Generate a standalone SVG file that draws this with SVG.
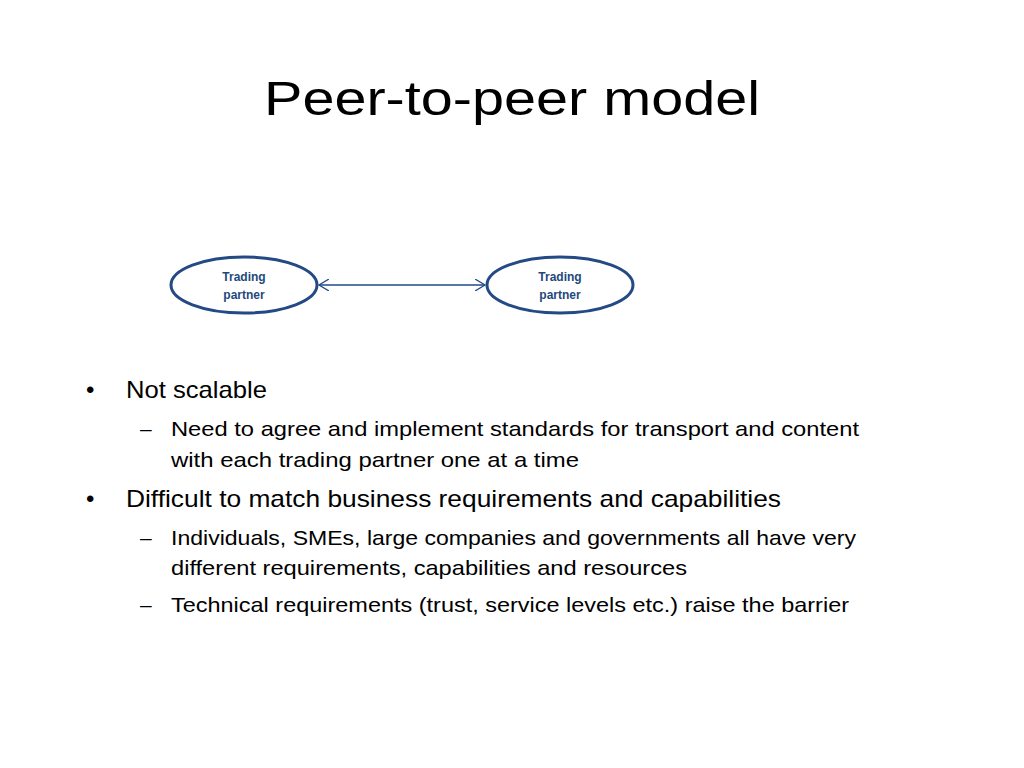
<svg xmlns="http://www.w3.org/2000/svg" width="1024" height="768" viewBox="0 0 1024 768">
<style>
.t{font-family:"Liberation Sans",Arial,sans-serif;fill:#000}
.n{font-family:"Liberation Sans",Arial,sans-serif;font-size:12px;font-weight:bold;fill:#1f497d;text-anchor:middle}
.e{fill:#fff;stroke:#234a85;stroke-width:3}
</style>
<defs><marker id="a" markerWidth="12" markerHeight="12" refX="10" refY="6" orient="auto-start-reverse" markerUnits="userSpaceOnUse"><path d="M0,0 L10,6 L0,12" fill="none" stroke="#234a85" stroke-width="1.3"/></marker></defs>
<rect width="1024" height="768" fill="#fff"/>
<text class="t" x="512" y="115" font-size="48" text-anchor="middle" textLength="496" lengthAdjust="spacingAndGlyphs">Peer-to-peer model</text>
<g id="connectors"><line x1="319" y1="285" x2="485" y2="285" stroke="#234a85" stroke-width="1.3" marker-start="url(#a)" marker-end="url(#a)"/></g>
<g id="p1"><ellipse class="e" cx="244" cy="285" rx="73" ry="28"/><text class="n" x="244" y="281">Trading</text><text class="n" x="244" y="299">partner</text></g>
<g id="p2"><ellipse class="e" cx="560" cy="285" rx="73" ry="28"/><text class="n" x="560" y="281">Trading</text><text class="n" x="560" y="299">partner</text></g>
<g class="t" font-size="24">
<text x="86" y="398">•</text><text x="126" y="398" textLength="141" lengthAdjust="spacingAndGlyphs">Not scalable</text>
<text x="86" y="507">•</text><text x="126" y="507" textLength="655" lengthAdjust="spacingAndGlyphs">Difficult to match business requirements and capabilities</text>
</g>
<g class="t" font-size="21">
<text x="140" y="436">–</text><text x="171" y="436" textLength="688" lengthAdjust="spacingAndGlyphs">Need to agree and implement standards for transport and content</text>
<text x="171" y="467" textLength="408" lengthAdjust="spacingAndGlyphs">with each trading partner one at a time</text>
<text x="140" y="545">–</text><text x="171" y="545" textLength="685" lengthAdjust="spacingAndGlyphs">Individuals, SMEs, large companies and governments all have very</text>
<text x="171" y="575" textLength="516" lengthAdjust="spacingAndGlyphs">different requirements, capabilities and resources</text>
<text x="140" y="612">–</text><text x="171" y="612" textLength="678" lengthAdjust="spacingAndGlyphs">Technical requirements (trust, service levels etc.) raise the barrier</text>
</g>
</svg>
